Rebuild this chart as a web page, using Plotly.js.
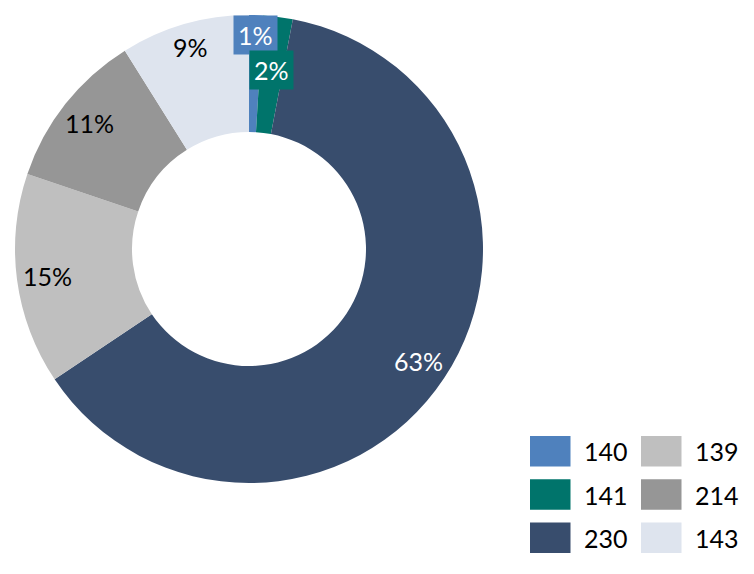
<!DOCTYPE html>
<html>
<head>
<meta charset="utf-8">
<script src="https://cdn.plot.ly/plotly-3.0.1.min.js"></script>
<style>html,body{margin:0;padding:0;background:#fff}#chart{width:754px;height:574px}</style>
</head>
<body>
<div id="chart"></div>
<script>
// Data
var labels = ["140", "141", "230", "139", "214", "143"];
var values = [0.95, 2.05, 62.6, 14.6, 10.9, 8.9];
var colors = ["#4F81BD", "#00746B", "#384D6D", "#BFBFBF", "#969696", "#DEE4EE"];
var textColors = ["#FFFFFF", "#FFFFFF", "#FFFFFF", "#000000", "#000000", "#000000"];
var boxedLabels = [true, true, false, false, false, false];
var labelRadius = [0.915, 0.77, 0.87, 0.87, 0.87, 0.90];

var W = 754, H = 574;
var FONT = "Lato, 'Open Sans', sans-serif";
var cx = 249, cy = 249, R = 234;
function px(x) { return x / W; }
function py(y) { return 1 - y / H; }

var total = values.reduce(function (a, b) { return a + b; }, 0);

var trace = {
  type: "pie",
  labels: labels,
  values: values,
  sort: false,
  direction: "clockwise",
  rotation: 0,
  hole: 0.5,
  marker: { colors: colors, line: { width: 0 } },
  textinfo: "none",
  domain: { x: [px(cx - R), px(cx + R)], y: [py(cy + R), py(cy - R)] },
  showlegend: false,
  hoverinfo: "label+percent"
};

var shapes = [];
var annotations = [];

// Data labels placed along each slice's mid angle
var cum = 0;
values.forEach(function (v, i) {
  var mid = (cum + v / 2) / total * 2 * Math.PI;
  cum += v;
  var r = R * labelRadius[i];
  var x = cx + r * Math.sin(mid), y = cy - r * Math.cos(mid);
  var a = {
    xref: "paper", yref: "paper", x: px(x), y: py(y),
    xanchor: "center", yanchor: "middle", showarrow: false,
    text: Math.round(v / total * 100) + "%",
    font: { family: FONT, size: 25, color: textColors[i] }
  };
  if (boxedLabels[i]) { a.bgcolor = colors[i]; a.borderpad = 4; }
  annotations.push(a);
});

// Legend: two columns, three rows
var lgX = [530, 641], lgY = 436, lgDy = 43.3, swW = 40.5, swH = 30.5, txtGap = 11;
labels.forEach(function (lab, i) {
  var col = Math.floor(i / 3), row = i % 3;
  var x0 = lgX[col], y0 = lgY + row * lgDy;
  shapes.push({
    type: "rect", xref: "paper", yref: "paper",
    x0: px(x0), x1: px(x0 + swW), y0: py(y0 + swH), y1: py(y0),
    fillcolor: colors[i], line: { width: 0 }
  });
  annotations.push({
    xref: "paper", yref: "paper", x: px(x0 + swW + txtGap), y: py(y0 + swH / 2),
    xanchor: "left", yanchor: "middle", showarrow: false,
    text: lab, font: { family: FONT, size: 25, color: "#000000" }
  });
});

var layout = {
  width: W, height: H,
  margin: { l: 0, r: 0, t: 0, b: 0 },
  paper_bgcolor: "#FFFFFF",
  showlegend: false,
  shapes: shapes,
  annotations: annotations,
  font: { family: FONT }
};

Plotly.newPlot("chart", [trace], layout, { displayModeBar: false, staticPlot: true });
</script>
</body>
</html>
